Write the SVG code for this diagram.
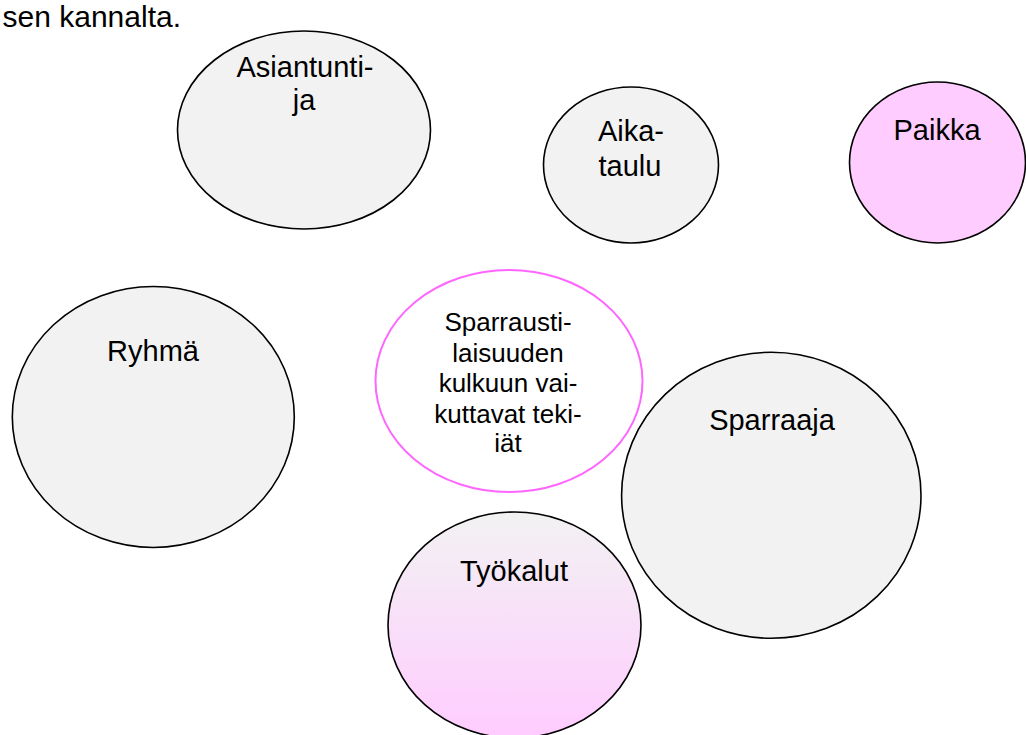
<svg xmlns="http://www.w3.org/2000/svg" width="1026" height="735" viewBox="0 0 1026 735">
  <defs>
    <linearGradient id="tool-fill" x1="0" y1="0" x2="0" y2="1">
      <stop offset="0" stop-color="#f2f2f2"/>
      <stop offset="1" stop-color="#ffccff"/>
    </linearGradient>
    <style>
      .bubble { stroke: #000; stroke-width: 1.6; }
      .grey { fill: #f2f2f2; }
      .pink { fill: #ffccff; }
      .core { fill: #ffffff; stroke: #ff66ff; stroke-width: 2; }
      .label { font-family: "Liberation Sans", Arial, sans-serif; font-size: 29px; fill: #000; text-anchor: middle; }
      .core-label { font-family: "Liberation Sans", Arial, sans-serif; font-size: 26px; fill: #000; text-anchor: middle; }
      .caption { font-family: "Liberation Sans", Arial, sans-serif; font-size: 30px; fill: #000; }
    </style>
  </defs>

  <rect width="1026" height="735" fill="#ffffff"/>

  <text class="caption" x="181" y="27" text-anchor="end">sen kannalta.</text>

  <g id="asiantuntija">
    <ellipse class="bubble grey" cx="304" cy="130" rx="126.5" ry="99"/>
    <text class="label" x="305" y="77">Asiantunti-</text>
    <text class="label" x="304" y="110">ja</text>
  </g>

  <g id="aikataulu">
    <ellipse class="bubble grey" cx="631" cy="165" rx="87.5" ry="78"/>
    <text class="label" x="631" y="141">Aika-</text>
    <text class="label" x="630" y="176">taulu</text>
  </g>

  <g id="paikka">
    <ellipse class="bubble pink" cx="937.5" cy="162.5" rx="88" ry="80.5"/>
    <text class="label" x="937" y="140">Paikka</text>
  </g>

  <g id="ryhma">
    <ellipse class="bubble grey" cx="153.3" cy="417" rx="141" ry="130.5"/>
    <text class="label" x="153" y="361">Ryhmä</text>
  </g>

  <g id="keskus">
    <ellipse class="core" cx="509" cy="381" rx="133.5" ry="111"/>
    <text class="core-label" x="508" y="331">Sparrausti-</text>
    <text class="core-label" x="508" y="362">laisuuden</text>
    <text class="core-label" x="508" y="392">kulkuun vai-</text>
    <text class="core-label" x="508" y="423">kuttavat teki-</text>
    <text class="core-label" x="508" y="452">iät</text>
  </g>

  <g id="sparraaja">
    <ellipse class="bubble grey" cx="771.3" cy="495.3" rx="149.7" ry="143"/>
    <text class="label" x="772" y="430">Sparraaja</text>
  </g>

  <g id="tyokalut">
    <ellipse class="bubble" fill="url(#tool-fill)" cx="514.5" cy="625" rx="126.5" ry="113"/>
    <text class="label" x="514" y="581">Työkalut</text>
  </g>

  <g id="connectors"/>
</svg>
